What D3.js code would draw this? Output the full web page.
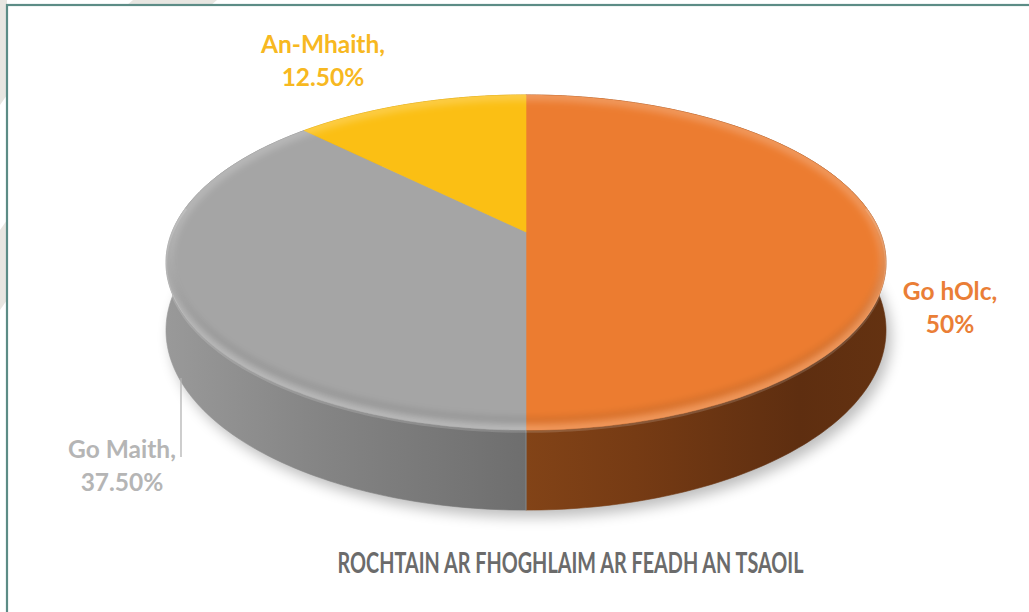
<!DOCTYPE html>
<html>
<head>
<meta charset="utf-8">
<script src="https://cdn.jsdelivr.net/npm/d3@7/dist/d3.min.js"></script>
<style>
  html, body { margin: 0; padding: 0; background: #fff; }
  svg { display: block; }
</style>
</head>
<body>
<svg id="chart" width="1029" height="612"></svg>
<script>
// ---- data ----
const categories = ["Go hOlc", "Go Maith", "An-Mhaith"];
const values = [50, 37.5, 12.5];
const valueLabels = ["50%", "37.50%", "12.50%"];
const title = "ROCHTAIN AR FHOGHLAIM AR FEADH AN TSAOIL";

// ---- styles ----
const topColors = ["#EC7C30", "#A5A5A5", "#FBBF14"];
const labelColors = ["#EA7E36", "#B5B5B5", "#F7B821"];

const svg = d3.select("#chart");
const defs = svg.append("defs");

// projection of the tilted disc (perspective)
const cx = 526, cy = 232, A = 162, B = 354, H = 65.5, persp = -0.182;
function proj(theta, r, h) {
  const u = r * Math.sin(theta), v = -r * Math.cos(theta);
  const den = 1 + persp * v;
  return [cx + B * u / den, cy + (A * v + H * h) / den];
}
function arcPoints(a0, a1, h) {
  const n = Math.max(4, Math.ceil((a1 - a0) / (Math.PI / 180)));
  return d3.range(n + 1).map(i => proj(a0 + (a1 - a0) * i / n, 1, h));
}
const line = d3.line();

// background stripes outside the frame
svg.append("rect").attr("x", 0).attr("y", 0).attr("width", 1029).attr("height", 612).attr("fill", "#fff");
const stripes = [[[133,0],[217,0],[210,6],[126,6]], [[0,0],[7,0],[7,95],[0,105]], [[0,230],[7,220],[7,300],[0,310]]];
svg.selectAll("polygon.stripe").data(stripes).join("polygon")
  .attr("class", "stripe").attr("points", d => d.map(p => p.join(",")).join(" "))
  .attr("fill", "#e8e6e1");

// frame
svg.append("rect").attr("x", 7).attr("y", 5).attr("width", 1040).attr("height", 640)
  .attr("fill", "#fff").attr("stroke", "#5C8C86").attr("stroke-width", 2.2);

// filters
const blur = defs.append("filter").attr("id", "shadowBlur").attr("x", "-20%").attr("y", "-20%").attr("width", "140%").attr("height", "140%");
blur.append("feGaussianBlur").attr("stdDeviation", 7);
const soft = defs.append("filter").attr("id", "soft").attr("x", "-10%").attr("y", "-10%").attr("width", "120%").attr("height", "120%");
soft.append("feGaussianBlur").attr("stdDeviation", 3);

// gradients for walls
const wallGrads = [
  [["0%", "#824317"], ["30%", "#763b14"], ["75%", "#5e2e10"], ["100%", "#643211"]],
  [["0%", "#9a9a9a"], ["40%", "#868686"], ["100%", "#6e6e6e"]],
  [["0%", "#c9940c"], ["100%", "#b88608"]]
];
const wallRange = [[526, 890], [160, 526], [300, 526]];
wallGrads.forEach((stops, i) => {
  const g = defs.append("linearGradient").attr("id", "wall" + i)
    .attr("gradientUnits", "userSpaceOnUse")
    .attr("x1", wallRange[i][0]).attr("x2", wallRange[i][1]).attr("y1", 0).attr("y2", 0);
  stops.forEach(s => g.append("stop").attr("offset", s[0]).attr("stop-color", s[1]));
});

// pie layout
const pie = d3.pie().sort(null).value(d => d).startAngle(0).endAngle(2 * Math.PI);
const arcs = pie(values);

// full outline helpers
const topOutline = arcPoints(0, 2 * Math.PI, 0);
const botOutline = arcPoints(0, 2 * Math.PI, 1);

// shadow
svg.append("path")
  .attr("d", line(botOutline.map(p => [p[0] + 5, p[1] + 7])) + "Z")
  .attr("fill", "#000").attr("opacity", 0.26).attr("filter", "url(#shadowBlur)");

// walls
const wallG = svg.append("g");
wallG.selectAll("path").data(arcs).join("path")
  .attr("d", d => line(arcPoints(d.startAngle, d.endAngle, 0).concat(arcPoints(d.startAngle, d.endAngle, 1).reverse())) + "Z")
  .attr("fill", (d, i) => `url(#wall${i})`)
  .attr("stroke", (d, i) => `url(#wall${i})`).attr("stroke-width", 0.6);

// thin line at the slice split on the wall
svg.append("path")
  .attr("d", line([proj(Math.PI, 1, 0), proj(Math.PI, 1, 1)]))
  .attr("stroke", "#8a97a0").attr("stroke-width", 1.2).attr("opacity", 0.55);

// top faces
defs.append("clipPath").attr("id", "topClip").append("path").attr("d", line(topOutline) + "Z");
const topG = svg.append("g");
topG.selectAll("path").data(arcs).join("path")
  .attr("d", d => line([proj(0, 0, 0)].concat(arcPoints(d.startAngle, d.endAngle, 0))) + "Z")
  .attr("fill", (d, i) => topColors[i])
  .attr("stroke", (d, i) => topColors[i]).attr("stroke-width", 0.6);

// bevel highlight & shade on the rim of the top face
const bevel = svg.append("g").attr("clip-path", "url(#topClip)");
bevel.append("path").attr("d", line(topOutline) + "Z")
  .attr("fill", "none").attr("stroke", "#ffffff").attr("stroke-opacity", 0.2)
  .attr("stroke-width", 12).attr("filter", "url(#soft)");
bevel.append("path").attr("d", line(arcPoints(Math.PI * 0.3, Math.PI * 1.7, 0).map(p => [p[0], p[1] - 10])))
  .attr("fill", "none").attr("stroke", "#000").attr("stroke-opacity", 0.09)
  .attr("stroke-width", 7).attr("filter", "url(#soft)");

// front seam highlight
svg.append("path").attr("d", line(arcPoints(Math.PI * 0.45, Math.PI * 1.55, 0).map(p => [p[0], p[1] + 1.5])))
  .attr("fill", "none").attr("stroke", "#ffffff").attr("stroke-opacity", 0.15).attr("stroke-width", 2.5);

// labels
const labelPos = [[950, 300], [122, 458], [323, 53]];
const lg = svg.append("g").attr("font-family", "Lato, 'Open Sans', sans-serif").attr("font-weight", "bold").attr("font-size", 24.5);
categories.forEach((c, i) => {
  const t = lg.append("text").attr("text-anchor", "middle").attr("fill", labelColors[i])
    .attr("x", labelPos[i][0]).attr("y", labelPos[i][1]);
  t.append("tspan").attr("x", labelPos[i][0]).text(c + ",");
  t.append("tspan").attr("x", labelPos[i][0]).attr("dy", 33).text(valueLabels[i]);
});

// leader line for Go Maith
svg.append("line").attr("x1", 181).attr("x2", 181).attr("y1", 378).attr("y2", 457)
  .attr("stroke", "#b3b3b3").attr("stroke-width", 1.3);

// title
const tt = svg.append("text").attr("x", 570.5).attr("y", 573).attr("text-anchor", "middle")
  .attr("font-family", "Lato, 'Open Sans', sans-serif").attr("font-weight", "bold")
  .attr("font-size", 28).attr("fill", "#6B6B6B").text(title);
const w = tt.node().getComputedTextLength();
if (w > 466) tt.attr("textLength", 466).attr("lengthAdjust", "spacingAndGlyphs");
</script>
</body>
</html>
